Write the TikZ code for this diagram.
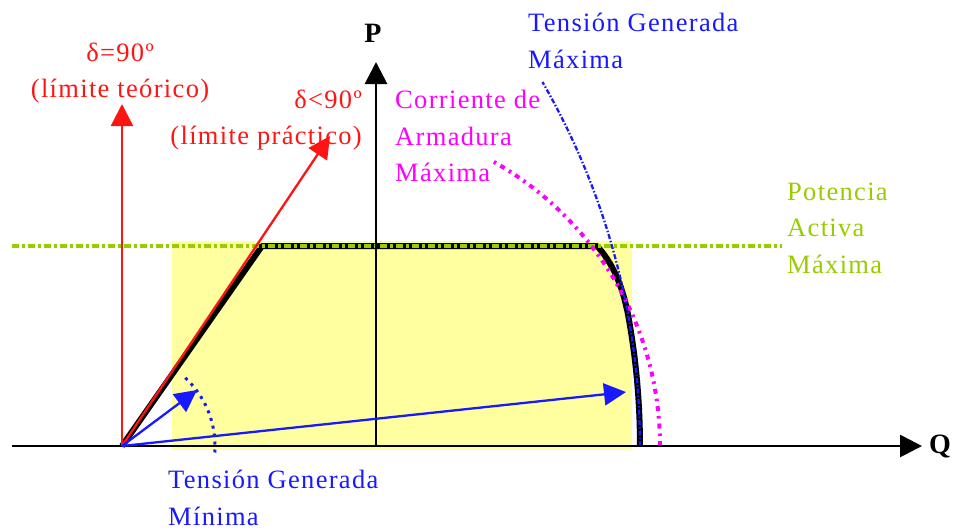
\documentclass[tikz,border=0pt]{standalone}
\usepackage{fontspec}
\setmainfont{Liberation Serif}[LetterSpace=5]
\usetikzlibrary{arrows.meta}
\definecolor{myred}{RGB}{255,20,20}
\definecolor{mymag}{RGB}{255,0,255}
\definecolor{myblue}{RGB}{25,25,255}
\definecolor{mygreen}{RGB}{153,204,0}
\definecolor{myyellow}{RGB}{255,255,160}
\begin{document}
\begin{tikzpicture}[x=1pt,y=-1pt,
  lbl/.style={inner sep=0pt, font=\fontsize{26.5}{36.5}\selectfont},
  axislbl/.style={inner sep=0pt, font=\fontsize{28}{30}\selectfont\bfseries},
  tipbig/.style={-{Triangle[length=22pt,width=22pt]}},
  axisline/.style={line width=2.8pt, black, tipbig},
  redvec/.style={line width=2.3pt, myred, tipbig},
  bluevec/.style={line width=2.3pt, myblue, tipbig},
]
\useasboundingbox (0,0) rectangle (957,531);
% yellow region
\fill[myyellow] (172,241) rectangle (632,450);
% coordinates
\coordinate (O) at (122,446);
\coordinate (qs) at (12,446);
\coordinate (qe) at (922,446);
\coordinate (ps) at (376,446);
\coordinate (pe) at (376,62);
\coordinate (r1) at (122,104);
\coordinate (r2) at (330,136);
\coordinate (b1) at (197,390);
\coordinate (b2) at (626,392);
\coordinate (k1) at (262,246);
\coordinate (k2) at (597,246);
\coordinate (k3) at (627,310);
\coordinate (gs) at (12,246);
\coordinate (ge) at (782,246);
% black capability curve
\draw[line width=6pt, black, line join=round]
  (O) -- (k1) -- (k2) .. controls (612,262) and (622,285) .. (k3)
  -- plot[domain=0:10.76, samples=30] ({-88+728*cos(10.76-\x)},{446-728*sin(10.76-\x)});
% green active power limit
\draw[line width=3.5pt, mygreen, dash pattern=on 7pt off 3pt on 3pt off 3pt] (gs) -- (ge);
% magenta armature current circle
\draw[line width=4pt, mymag, dash pattern=on 5pt off 5pt on 2.5pt off 5pt]
  plot[domain=0:61.5, samples=80] ({334+326*cos(\x)},{446-326*sin(\x)});
% blue max field voltage circle
\draw[line width=2.3pt, myblue, dash pattern=on 5pt off 2pt on 1.5pt off 2pt]
  plot[domain=0:30, samples=80] ({-88+728*cos(\x)},{446-728*sin(\x)});
% small blue min voltage arc
\draw[line width=3pt, myblue, dash pattern=on 3pt off 5pt]
  plot[domain=-4:50, samples=40] ({122+93*cos(\x)},{446-93*sin(\x)});
% axes
\draw[axisline] (qs) -- (qe);
\draw[axisline] (ps) -- (pe);
% vectors
\draw[redvec] (O) -- (r1);
\draw[redvec] (O) -- (r2);
\draw[bluevec] (O) -- (b1);
\draw[bluevec] (O) -- (b2);
% labels
\node[axislbl] (P) at (373,33) {P};
\node[axislbl] (Q) at (940,446) {Q};
\node[lbl, myred, align=center] (d90) at (120,73) {δ=90º\\(límite teórico)};
\node[lbl, myred, align=right, anchor=east] (dlt) at (362,120) {δ<90º\\(límite práctico)};
\node[lbl, mymag, align=left, anchor=west] (ia) at (395,136) {Corriente de\\Armadura\\Máxima};
\node[lbl, myblue, align=left, anchor=west] (tgmax) at (528,41) {Tensión Generada\\Máxima};
\node[lbl, mygreen, align=left, anchor=west] (pmax) at (787,228) {Potencia\\Activa\\Máxima};
\node[lbl, myblue, align=left, anchor=west] (tgmin) at (168,498) {Tensión Generada\\Mínima};
\end{tikzpicture}
\end{document}
